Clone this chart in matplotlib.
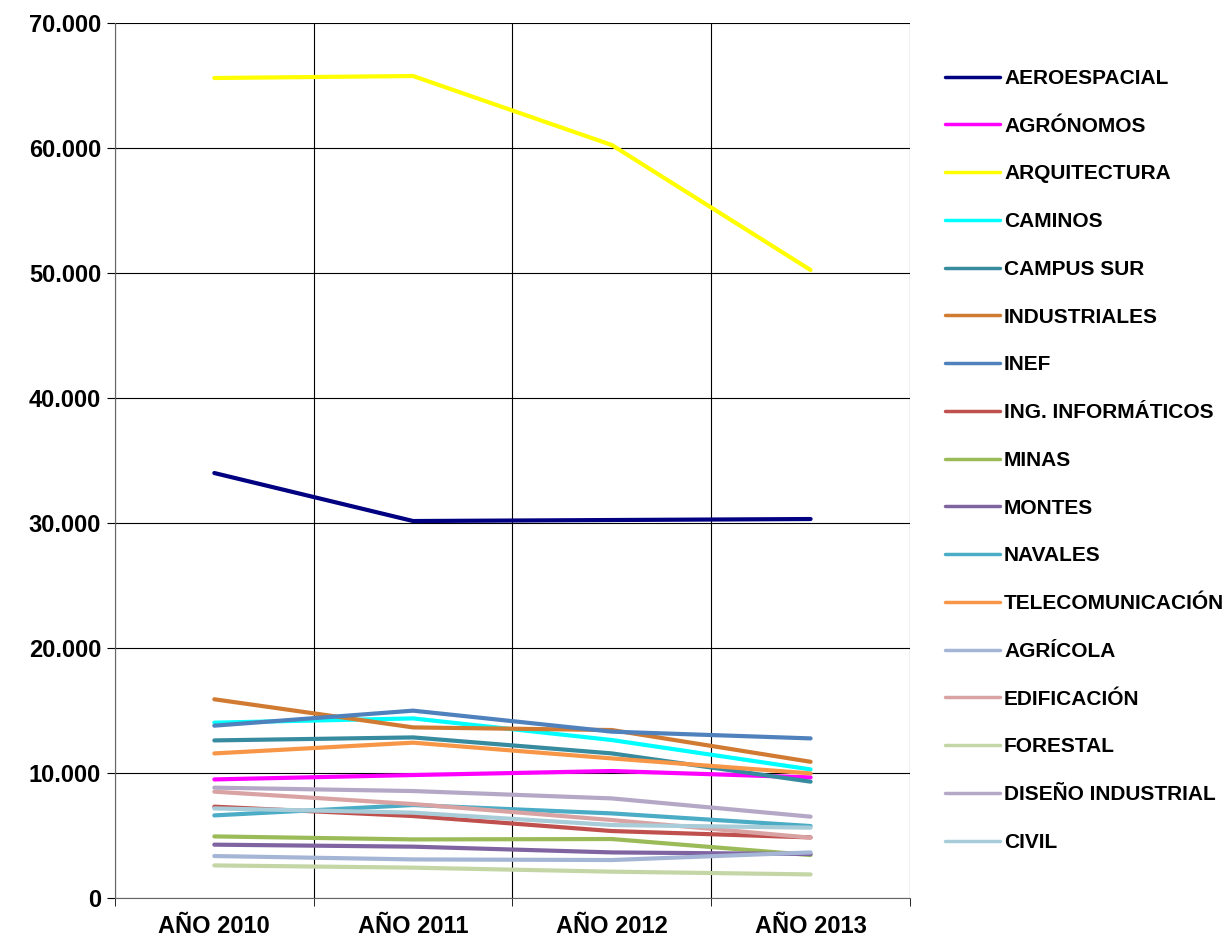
import matplotlib
matplotlib.use("Agg")
import matplotlib.pyplot as plt
from matplotlib.ticker import FuncFormatter, FixedLocator

plt.rcParams["font.family"] = ["Liberation Sans", "DejaVu Sans"]

years = ["AÑO 2010", "AÑO 2011", "AÑO 2012", "AÑO 2013"]

aeroespacial = [34000, 30160, 30240, 30320]
agronomos = [9490, 9840, 10160, 9650]
arquitectura = [65600, 65760, 60240, 50240]
caminos = [14030, 14370, 12640, 10290]
campus_sur = [12610, 12850, 11570, 9310]
industriales = [15900, 13650, 13440, 10900]
inef = [13790, 14990, 13310, 12770]
ing_informaticos = [7310, 6560, 5360, 4850]
minas = [4930, 4690, 4720, 3440]
montes = [4270, 4110, 3650, 3520]
navales = [6610, 7440, 6770, 5760]
telecomunicacion = [11570, 12430, 11170, 9970]
agricola = [3360, 3090, 3040, 3650]
edificacion = [8510, 7520, 6240, 4830]
forestal = [2610, 2430, 2110, 1890]
diseno_industrial = [8830, 8560, 7970, 6510]
civil = [7170, 6830, 5840, 5630]

series = [
    ("AEROESPACIAL", aeroespacial, "#000080"),
    ("AGRÓNOMOS", agronomos, "#FF00FF"),
    ("ARQUITECTURA", arquitectura, "#FFFF00"),
    ("CAMINOS", caminos, "#00FFFF"),
    ("CAMPUS SUR", campus_sur, "#378B9E"),
    ("INDUSTRIALES", industriales, "#D07A32"),
    ("INEF", inef, "#4F81BD"),
    ("ING. INFORMÁTICOS", ing_informaticos, "#C0504D"),
    ("MINAS", minas, "#9BBB59"),
    ("MONTES", montes, "#8064A2"),
    ("NAVALES", navales, "#4BACC6"),
    ("TELECOMUNICACIÓN", telecomunicacion, "#F79646"),
    ("AGRÍCOLA", agricola, "#A5B5D5"),
    ("EDIFICACIÓN", edificacion, "#D9A3A3"),
    ("FORESTAL", forestal, "#C4D6A6"),
    ("DISEÑO INDUSTRIAL", diseno_industrial, "#B4A8C6"),
    ("CIVIL", civil, "#A8CCD8"),
]

fig = plt.figure(figsize=(12.32, 9.47), dpi=100)
ax = fig.add_axes([0.0933, 0.0517, 0.6453, 0.924])

xs = [i + 0.5 for i in range(len(years))]
for name, vals, color in series:
    ax.plot(xs, vals, color=color, lw=3, label=name,
            solid_capstyle="round", solid_joinstyle="round")

ax.set_xlim(0, len(years))
ax.set_ylim(0, 70000)
ax.set_xticks(xs)
ax.set_xticklabels(years, fontsize=17, fontweight="bold")
ax.tick_params(axis="x", which="major", length=0, pad=12)
ax.xaxis.set_minor_locator(FixedLocator([0, 1, 2, 3, 4]))
ax.tick_params(axis="x", which="minor", length=6, color="black")
ax.set_yticks(range(0, 70001, 10000))
ax.yaxis.set_major_formatter(FuncFormatter(lambda v, p: f"{int(v):,}".replace(",", ".")))
ax.tick_params(axis="y", length=6, labelsize=17, pad=4)
for lbl in ax.get_yticklabels():
    lbl.set_fontweight("bold")

ax.grid(True, axis="y", color="black", lw=0.8)
ax.grid(True, axis="x", which="minor", color="black", lw=0.8)
for s in ["top", "right"]:
    ax.spines[s].set_visible(False)
ax.spines["left"].set_color("#666666")
ax.spines["bottom"].set_color("#666666")

leg = fig.legend(loc="upper left", bbox_to_anchor=(0.760, 0.936), frameon=False,
                 prop={"size": 15, "weight": "bold"}, handlelength=2.65,
                 handletextpad=0.2, labelspacing=1.38, borderaxespad=0)
for h in leg.get_lines():
    h.set_linewidth(2.5)

fig.savefig("out.png", dpi=100)
